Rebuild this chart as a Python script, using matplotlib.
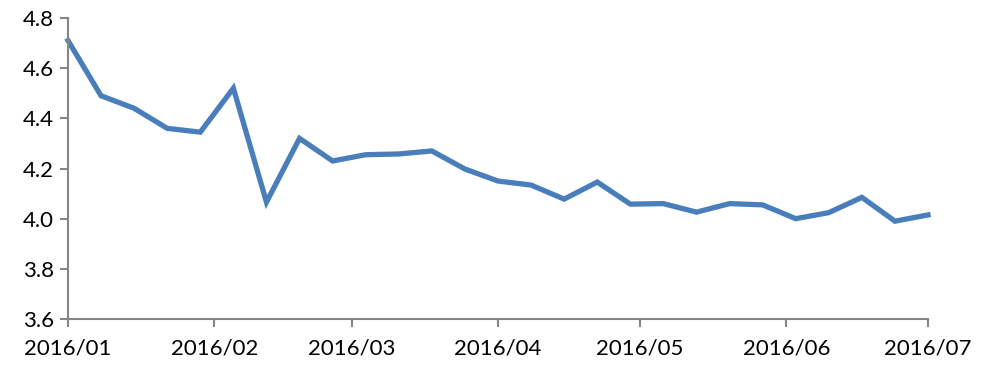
import matplotlib
matplotlib.use("Agg")
import matplotlib.pyplot as plt
import matplotlib.dates as mdates
import pandas as pd

dates = pd.date_range("2016-01-01", periods=27, freq="7D")
values = [4.71, 4.49, 4.44, 4.36, 4.345, 4.52, 4.066, 4.32, 4.23, 4.255, 4.258, 4.27,
          4.198, 4.15, 4.134, 4.078, 4.146, 4.058, 4.06, 4.026, 4.06, 4.055, 4.0,
          4.024, 4.085, 3.99, 4.015]
yticks = [3.6, 3.8, 4.0, 4.2, 4.4, 4.6, 4.8]
month_ticks = pd.date_range("2016-01-01", "2016-07-01", freq="MS")

plt.rcParams["font.family"] = ["Lato", "DejaVu Sans"]

fig = plt.figure(figsize=(9.81, 3.69), dpi=100)
ax = fig.add_axes([0.0693, 0.1355, 0.8767, 0.8157])

ax.plot(dates, values, color="#4a7ebb", linewidth=3.8, solid_joinstyle="miter", clip_on=False)

ax.set_xlim(month_ticks[0], month_ticks[-1])
ax.set_ylim(3.6, 4.8)
ax.set_yticks(yticks)
ax.set_yticklabels(["%.1f" % v for v in yticks])
ax.set_xticks(month_ticks)
ax.xaxis.set_major_formatter(mdates.DateFormatter("%Y/%m"))

for side in ["top", "right"]:
    ax.spines[side].set_visible(False)
for side in ["left", "bottom"]:
    ax.spines[side].set_color("#868686")
    ax.spines[side].set_linewidth(1.5)
ax.tick_params(axis="both", colors="#868686", labelcolor="black", labelsize=16,
               width=1.5, length=6)
ax.tick_params(axis="x", pad=8)
ax.tick_params(axis="y", pad=4)

fig.savefig("out.png", dpi=100)
